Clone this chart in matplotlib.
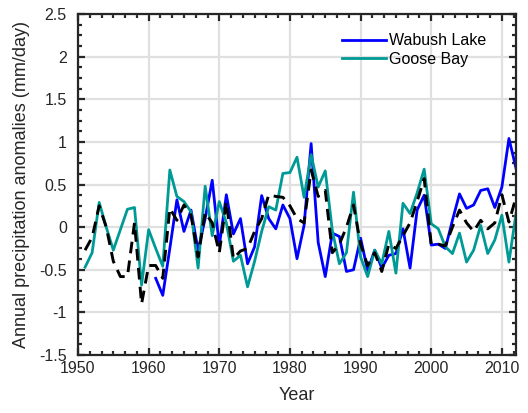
import matplotlib
matplotlib.use('Agg')
import matplotlib.pyplot as plt
import numpy as np
from matplotlib.ticker import MultipleLocator, AutoMinorLocator, FuncFormatter

plt.rcParams['font.family'] = ['Liberation Sans', 'DejaVu Sans']

# annual precipitation anomalies (mm/day)
years = np.arange(1951, 2013)
goose_bay = [-0.47, -0.30, 0.29, 0.00, -0.27, -0.03, 0.21, 0.23, -0.68, -0.03,
             -0.25, -0.46, 0.67, 0.36, 0.30, 0.18, -0.48, 0.48, -0.10, 0.30,
             0.05, -0.40, -0.33, -0.70, -0.40, -0.05, 0.24, 0.20, 0.63, 0.64,
             0.82, 0.35, 0.85, 0.47, 0.66, -0.04, -0.43, -0.30, 0.41, -0.35,
             -0.58, -0.27, -0.43, -0.05, -0.54, 0.28, 0.16, 0.40, 0.68, 0.04,
             -0.02, -0.23, -0.31, -0.07, -0.41, -0.27, 0.02, -0.31, -0.15, 0.14,
             -0.41, 0.16]

wabush_years = np.arange(1961, 2013)
wabush_lake = [-0.60, -0.80, -0.25, 0.32, -0.05, 0.20, -0.27, 0.10, 0.55, -0.22,
               0.38, -0.08, 0.10, -0.43, -0.23, 0.37, 0.10, -0.02, 0.26, 0.10,
               -0.37, 0.02, 0.98, -0.18, -0.58, -0.07, -0.11, -0.52, -0.50, -0.13,
               -0.51, -0.27, -0.48, -0.33, -0.31, -0.02, -0.48, 0.20, 0.375, -0.21,
               -0.20, -0.25, 0.08, 0.39, 0.22, 0.26, 0.43, 0.45, 0.23, 0.47,
               1.04, 0.69]

regional_mean = [-0.27, -0.12, 0.25, 0.00, -0.40, -0.58, -0.58, 0.05, -0.90, -0.45,
                 -0.45, -0.60, 0.22, 0.08, 0.26, 0.14, -0.35, 0.17, 0.05, -0.30,
                 0.30, -0.37, -0.28, -0.25, -0.05, 0.10, 0.38, 0.36, 0.35, 0.25,
                 0.10, 0.05, 0.67, 0.36, 0.43, -0.30, -0.20, 0.00, 0.26, -0.20,
                 -0.45, -0.30, -0.52, -0.20, -0.25, -0.10, 0.05, 0.30, 0.57, -0.20,
                 -0.20, -0.22, 0.00, 0.20, 0.05, -0.05, 0.08, -0.02, 0.05, 0.38,
                 0.06, 0.35]

fig = plt.figure(figsize=(5.28, 4.13), dpi=100)
ax = fig.add_axes([0.1477, 0.1404, 0.8296, 0.8257])

ax.plot(wabush_years, wabush_lake, color='#0000ff', lw=2.0, label='Wabush Lake')
ax.plot(years, goose_bay, color='#009a96', lw=2.0, label='Goose Bay')
ax.plot(years, regional_mean, color='black', lw=2.1, dashes=(4, 2.5))

ax.set_xlim(1950, 2012)
ax.set_ylim(-1.5, 2.5)
ax.xaxis.set_major_locator(MultipleLocator(10))
ax.xaxis.set_minor_locator(AutoMinorLocator(6))
ax.yaxis.set_major_locator(MultipleLocator(0.5))
ax.yaxis.set_minor_locator(AutoMinorLocator(4))
ax.yaxis.set_major_formatter(FuncFormatter(lambda v, p: '%g' % v))

ax.grid(True, which='major', color='#e0e0e0', lw=1.6)
ax.set_axisbelow(True)
for s in ax.spines.values():
    s.set_linewidth(1.6)
    s.set_color('#262626')
ax.tick_params(which='both', direction='in', top=True, right=True,
               colors='#262626', labelsize=11.5, width=1.6)
ax.tick_params(which='major', length=5)
ax.tick_params(which='minor', length=3)
ax.tick_params(axis='y', pad=8)
ax.tick_params(axis='x', pad=4)

ax.set_xlabel('Year', fontsize=13, color='#262626', labelpad=8)
ax.set_ylabel('Annual precipitation anomalies (mm/day)', fontsize=13,
              color='#262626', labelpad=7)

ax.legend(loc='upper left', bbox_to_anchor=(0.603, 0.943), frameon=False,
          fontsize=11.5, handlelength=2.75, handletextpad=0.2,
          borderpad=0, borderaxespad=0, labelspacing=0.2)

fig.savefig('out.png', dpi=100)
